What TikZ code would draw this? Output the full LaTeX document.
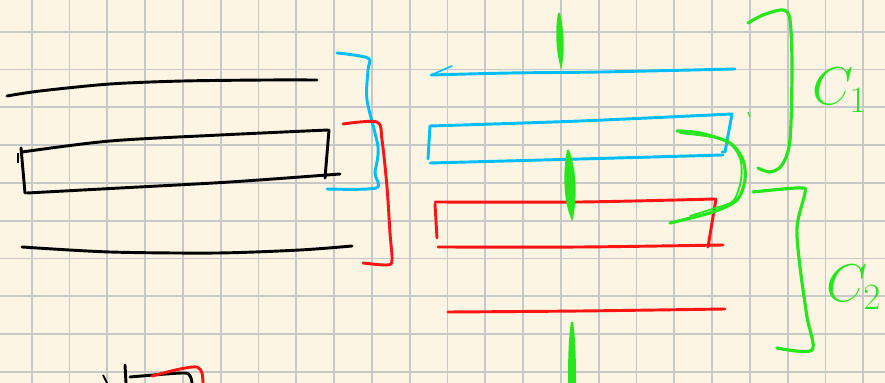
\RequirePackage{fix-cm}
\documentclass[tikz,border=0pt]{standalone}
\usepackage{xcolor}
\usetikzlibrary{calc}

\definecolor{paper}{RGB}{253,245,227}
\definecolor{gridgray}{RGB}{200,200,200}
\definecolor{inkblue}{RGB}{0,190,250}
\definecolor{inkred}{RGB}{250,20,20}
\definecolor{inkgreen}{RGB}{40,230,30}

\begin{document}
\begin{tikzpicture}[
  x=0.02646cm, y=-0.02646cm,
  gridline/.style={draw=gridgray, line width=1.4pt},
  blackpen/.style={draw=black, line width=2.2pt, line cap=round, line join=round},
  bluepen/.style={draw=inkblue, line width=2.2pt, line cap=round, line join=round},
  redpen/.style={draw=inkred, line width=2.2pt, line cap=round, line join=round},
  greenpen/.style={draw=inkgreen, line width=2.4pt, line cap=round, line join=round},
  greenbar/.style={draw=inkgreen, fill=inkgreen, line width=1.5pt},
  label/.style={text=inkgreen, font=\fontsize{40}{42}\selectfont, inner sep=0pt}
]
  % paper and grid
  \fill[paper] (0,0) rectangle (885,383);
  \useasboundingbox (0,0) rectangle (885,383);
  \foreach \i in {0,...,22} {
    \draw[gridline] (31.7+37.8*\i,0) -- (31.7+37.8*\i,383);
  }
  \foreach \j in {0,...,9} {
    \draw[gridline] (0,31.7+37.8*\j) -- (885,31.7+37.8*\j);
  }

  % left: black layers
  \draw[blackpen] plot[smooth] coordinates {(7,96) (40,91) (110,84) (183,81) (267,80) (317,80)};
  \draw[blackpen] (21,148) -- (25,193);
  \draw[blackpen] plot[smooth] coordinates {(22,152) (110,141) (220,135) (328,130)};
  \draw[blackpen] (329,130) -- (325,178);
  \draw[blackpen] plot[smooth] coordinates {(27,193) (120,188) (230,182) (340,174)};
  \draw[black, line width=1pt] (18,153) -- (18,163);
  \draw[blackpen] plot[smooth] coordinates {(22,247) (110,252) (217,253) (300,250) (352,246)};

  % left brackets
  \draw[bluepen] plot[smooth] coordinates {(337,53) (368,58) (368,70) (367,100) (378,147) (375,173) (376,188) (327,189)};
  \draw[redpen] plot[smooth] coordinates {(343,124) (377,122) (382,140) (387,187) (390,233) (392,260) (387,265) (363,263)};

  % bottom partial sketch
  \draw[black, line width=1.4pt] (103,375) -- (107,383);
  \draw[blackpen] (125,365) -- (126,383);
  \draw[blackpen] plot[smooth] coordinates {(130,377) (182,373) (190,376) (192,383)};
  \draw[redpen] plot[smooth] coordinates {(152,376) (180,369) (197,367) (202,373) (203,383)};

  % right: blue layers
  \draw[bluepen, line width=1.2pt] (431,75) -- (452,66);
  \draw[bluepen] plot[smooth] coordinates {(431,75) (510,73) (600,72) (735,69)};
  \draw[bluepen] (430,126) -- (428,159);
  \draw[bluepen] plot[smooth] coordinates {(430,126) (580,121) (732,114)};
  \draw[bluepen] (732,114) -- (725,152) -- (722,152);
  \draw[bluepen] plot[smooth] coordinates {(430,163) (580,159) (723,155)};

  % right: red layers
  \draw[redpen] (435,204) -- (437,238);
  \draw[redpen] plot[smooth] coordinates {(435,202) (580,202) (715,199)};
  \draw[redpen] (716,199) -- (708,247);
  \draw[redpen] plot[smooth] coordinates {(438,247) (580,247) (723,245)};
  \draw[redpen] plot[smooth] coordinates {(448,312) (580,311) (725,309)};

  % green marks
  \fill[greenbar] (559,13) .. controls (563,30) and (564,50) .. (561,65) .. controls (557,50) and (556,30) .. (559,13);
  \fill[greenbar] (568,150) .. controls (576,170) and (576,200) .. (572,218) .. controls (564,200) and (564,170) .. (568,150);
  \fill[greenbar] (572,322) .. controls (575,340) and (575,370) .. (575,383) -- (569,383) .. controls (569,370) and (569,340) .. (572,322);

  % green loop
  \draw[greenpen] plot[smooth] coordinates {(677,131) (700,133) (730,143) (743,160) (745,180) (737,200) (713,212) (670,223)};
  \draw[greenpen, line width=1.4pt] plot[smooth] coordinates {(680,133) (705,136) (727,141) (740,158) (741,180) (733,201) (712,209) (690,216)};

  % green brackets
  \draw[greenpen] plot[smooth] coordinates {(748,23) (763,15) (783,10) (790,20) (792,67) (790,140) (782,165) (770,172) (758,168)};
  \draw[inkgreen, line width=1pt] (748,112) -- (750,117);
  \draw[greenpen] plot[smooth] coordinates {(753,192) (783,189) (803,188) (805,193) (797,227) (800,267) (807,317) (812,350) (777,348)};

  % labels
  \node[label, anchor=west] (c1) at (812,90) {$C_1$};
  \node[label, anchor=west] (c2) at (826,287) {$C_2$};
\end{tikzpicture}
\end{document}
